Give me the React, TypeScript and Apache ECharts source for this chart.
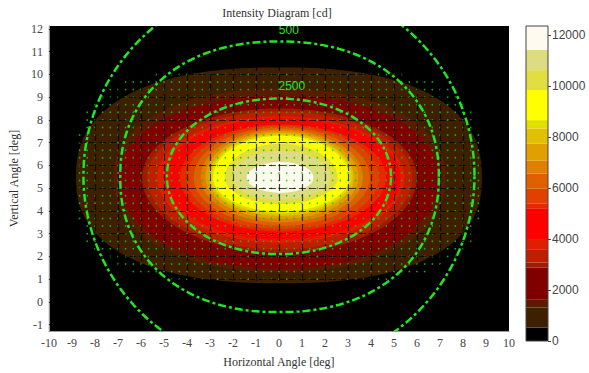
import React, { useEffect, useRef } from 'react';
import * as echarts from 'echarts';

// ---- axis ticks ----
const xTicks = [-10, -9, -8, -7, -6, -5, -4, -3, -2, -1, 0, 1, 2, 3, 4, 5, 6, 7, 8, 9, 10];
const yTicks = [-1, 0, 1, 2, 3, 4, 5, 6, 7, 8, 9, 10, 11, 12];
const xGridLines = [-9, -8, -7, -6, -5, -4, -3, -2, -1, 0, 1, 2, 3, 4, 5, 6, 7, 8, 9];
const yGridLines = [-1, 0, 1, 2, 3, 4, 5, 6, 7, 8, 9, 10, 11, 12];
const yMin = -1.28;
const yMax = 12.13;
const colorbarTicks = [0, 2000, 4000, 6000, 8000, 10000, 12000];
const colorbarMax = 12350;

// ---- intensity bands (lower bound of each band, in cd) ----
const bandLevels = [525, 1310, 1640, 2885, 3080, 3600, 4000, 5180, 5380, 5970, 6560, 7080, 7740, 8330, 8660, 9840, 10620, 11410];
const bandColors = ['#3e1f00', '#5a1c00', '#800000', '#9e1c00', '#c01e00', '#e01e00', '#ff0000', '#e82800', '#e04000', '#e06000', '#e08000', '#e0a000', '#e0c000', '#e0e000', '#ffff00', '#e0de40', '#dedc82', '#fffaf0'];
// contour extents (deg)
const bandLeft = [-8.82, -7.2, -6.95, -5.95, -5.73, -5.3, -5.0, -4.3, -4.0, -3.7, -3.4, -3.2, -3.05, -2.95, -2.85, -2.35, -2.05, -1.4];
const bandRight = [8.82, 7.25, 6.95, 6.0, 5.8, 5.45, 5.3, 4.65, 4.35, 3.95, 3.65, 3.45, 3.25, 3.15, 3.05, 2.55, 2.25, 1.5];
const bandBottom = [0.82, 1.32, 1.46, 2.17, 2.31, 2.6, 2.74, 3.09, 3.2, 3.35, 3.5, 3.65, 3.78, 3.88, 3.98, 4.3, 4.5, 4.8];
const bandTop = [10.31, 9.36, 9.08, 8.51, 8.37, 8.16, 8.09, 7.8, 7.75, 7.67, 7.58, 7.5, 7.42, 7.36, 7.3, 6.95, 6.65, 6.15];
const bandShape = [2.4, 2.2, 2.1, 2, 2, 2, 2, 2, 2, 2, 2, 2, 2, 2, 2, 2, 2, 2];
const peakX = 0.08;
const peakY = 5.47;

// ---- green iso lines ----
const contourLabels = ['', '500', '2500'];
const contourLeft = [-8.5, -6.9, -4.87];
const contourRight = [8.5, 6.95, 4.87];
const contourBottom = [-2.95, -0.45, 2.1];
const contourTop = [14.05, 11.45, 8.94];
const contourCenterY = [5.55, 5.5, 5.52];
const contourShape = [2, 2.2, 2.05];
const contourLabelX = [0, 0.43, 0.56];
const contourLabelY = [14.5, 11.96, 9.49];

// ---- measurement grid (green dots) ----
const dotStep = 1 / 3;
const dotRegion = { left: -8.8, right: 8.8, bottom: 0.85, top: 10.25, n: 3.6 };

function superPoly(api: any, left: number, bottom: number, right: number, top: number, n: number, cx: number, cy: number) {
  const c = api.coord([cx, cy]);
  const l = api.coord([left, cy])[0];
  const r = api.coord([right, cy])[0];
  const t = api.coord([cx, top])[1];
  const b = api.coord([cx, bottom])[1];
  const pts: number[][] = [];
  const N = 180;
  for (let k = 0; k < N; k++) {
    const a = (2 * Math.PI * k) / N;
    const co = Math.cos(a);
    const si = Math.sin(a);
    const fx = Math.sign(co) * Math.pow(Math.abs(co), 2 / n);
    const fy = Math.sign(si) * Math.pow(Math.abs(si), 2 / n);
    const px = c[0] + fx * (co >= 0 ? r - c[0] : c[0] - l);
    const py = c[1] - fy * (si >= 0 ? c[1] - t : b - c[1]);
    pts.push([px, py]);
  }
  return pts;
}

const SERIF = '"Liberation Serif", "Times New Roman", serif';
const SANS = '"Liberation Sans", Arial, sans-serif';

export default function App() {
  const ref = useRef<HTMLDivElement>(null);
  useEffect(() => {
    if (!ref.current) return;
    const chart = echarts.init(ref.current, null, { renderer: 'svg' });

    const bandData = bandLevels.map((lv, i) => [bandLeft[i], bandBottom[i], bandRight[i], bandTop[i], bandShape[i], i, lv]);
    const contourData = contourLabels.map((_, i) => [contourLeft[i], contourBottom[i], contourRight[i], contourTop[i], contourShape[i], contourCenterY[i], i]);
    const cbLevels = [0, ...bandLevels, colorbarMax];
    const cbColors = ['#000000', ...bandColors];
    const cbData = cbColors.map((_, i) => [0, cbLevels[i], 1, cbLevels[i + 1], i]);

    const dots: number[][] = [];
    const rxL = peakX - dotRegion.left;
    const rxR = dotRegion.right - peakX;
    const ryB = peakY - dotRegion.bottom;
    const ryT = dotRegion.top - peakY;
    for (let j = 0; j * dotStep <= 12; j++) {
      const y = j * dotStep;
      for (let i = -30; i <= 30; i++) {
        const x = i * dotStep;
        const dx = x - peakX;
        const dy = y - peakY;
        const ux = Math.abs(dx) / (dx < 0 ? rxL : rxR);
        const uy = Math.abs(dy) / (dy < 0 ? ryB : ryT);
        if (Math.pow(ux, dotRegion.n) + Math.pow(uy, dotRegion.n) <= 1) dots.push([x, y]);
      }
    }

    const axisLabelStyle = { color: '#444', fontFamily: SERIF, fontSize: 12 };

    chart.setOption({
      animation: false,
      backgroundColor: '#ffffff',
      graphic: [
        {
          type: 'text',
          x: 277,
          y: 13,
          style: {
            text: 'Intensity Diagram [cd]',
            font: '12px ' + SERIF,
            fill: '#333',
            align: 'center',
            verticalAlign: 'middle',
            textAlign: 'center',
            textVerticalAlign: 'middle',
          },
        },
      ],
      grid: [
        { left: 45, right: 80, top: 26, bottom: 32, show: true, backgroundColor: '#000000', borderWidth: 0 },
        { left: 526, width: 22, top: 26, bottom: 32, show: true, backgroundColor: 'transparent', borderColor: '#444', borderWidth: 1, z: 3 },
      ],
      xAxis: [
        {
          type: 'value',
          gridIndex: 0,
          min: -10,
          max: 10,
          interval: 1,
          axisLine: { show: true, onZero: false, lineStyle: { color: '#999', width: 1 } },
          axisTick: { show: false },
          splitLine: { show: false },
          axisLabel: { ...axisLabelStyle, margin: 6, customValues: xTicks },
          name: 'Horizontal Angle [deg]',
          nameLocation: 'middle',
          nameGap: 25,
          nameTextStyle: { color: '#333', fontFamily: SERIF, fontSize: 12 },
        },
        { type: 'value', gridIndex: 1, min: 0, max: 1, show: false },
      ],
      yAxis: [
        {
          type: 'value',
          gridIndex: 0,
          min: yMin,
          max: yMax,
          axisLine: { show: true, onZero: false, lineStyle: { color: '#999', width: 1 } },
          axisTick: { show: false, customValues: yTicks },
          splitLine: { show: false },
          axisLabel: { ...axisLabelStyle, margin: 6, customValues: yTicks },
          name: 'Vertical Angle [deg]',
          nameLocation: 'middle',
          nameGap: 24,
          nameTextStyle: { color: '#333', fontFamily: SERIF, fontSize: 12 },
        },
        {
          type: 'value',
          gridIndex: 1,
          min: 0,
          max: colorbarMax,
          position: 'right',
          axisLine: { show: false, onZero: false },
          splitLine: { show: false },
          axisTick: { show: true, length: 3, customValues: colorbarTicks, lineStyle: { color: '#444' } },
          axisLabel: {
            color: '#444',
            fontFamily: SANS,
            fontSize: 12,
            margin: 4,
            customValues: colorbarTicks,
            formatter: (v: number) => String(v),
          },
        },
      ],
      series: [
        {
          type: 'custom',
          name: 'bands',
          xAxisIndex: 0,
          yAxisIndex: 0,
          silent: true,
          clip: true,
          z: 1,
          encode: { x: [0, 2], y: [1, 3] },
          data: bandData,
          renderItem: (params: any, api: any) => {
            const idx = api.value(5);
            const pts = superPoly(api, api.value(0), api.value(1), api.value(2), api.value(3), api.value(4), peakX, peakY);
            return {
              type: 'polygon',
              shape: { points: pts },
              style: { fill: bandColors[idx], stroke: null },
              clipPath: { type: 'rect', shape: { ...params.coordSys } },
            };
          },
        },
        {
          type: 'scatter',
          name: 'grid points',
          xAxisIndex: 0,
          yAxisIndex: 0,
          silent: true,
          z: 3,
          symbol: 'circle',
          symbolSize: 1.7,
          itemStyle: { color: '#0fc80f', opacity: 0.85, borderWidth: 0 },
          data: dots,
          markLine: {
            silent: true,
            symbol: ['none', 'none'],
            label: { show: false },
            z: 4,
            lineStyle: { color: 'rgba(0,0,0,0.72)', width: 1.2, type: [7, 3] },
            emphasis: { disabled: true },
            data: [...xGridLines.map((v) => ({ xAxis: v })), ...yGridLines.map((v) => ({ yAxis: v }))],
          },
        },
        {
          type: 'custom',
          name: 'iso',
          xAxisIndex: 0,
          yAxisIndex: 0,
          silent: true,
          clip: true,
          z: 6,
          encode: { x: [0, 2], y: [1, 3] },
          data: contourData,
          renderItem: (params: any, api: any) => {
            const idx = api.value(6);
            const pts = superPoly(api, api.value(0), api.value(1), api.value(2), api.value(3), api.value(4), 0, api.value(5));
            const lp = api.coord([contourLabelX[idx], contourLabelY[idx]]);
            return {
              type: 'group',
              clipPath: { type: 'rect', shape: { ...params.coordSys } },
              children: [
                {
                  type: 'polygon',
                  shape: { points: pts },
                  style: { fill: 'none', stroke: '#1ee81e', lineWidth: 2.5, lineDash: [8, 3, 3, 3] },
                },
                {
                  type: 'text',
                  x: lp[0],
                  y: lp[1],
                  style: {
                    text: contourLabels[idx],
                    fill: '#1ee81e',
                    font: '12px ' + SANS,
                    align: 'center',
                    verticalAlign: 'middle',
                    textAlign: 'center',
                    textVerticalAlign: 'middle',
                  },
                },
              ],
            };
          },
        },
        {
          type: 'custom',
          name: 'colorbar',
          xAxisIndex: 1,
          yAxisIndex: 1,
          silent: true,
          z: 1,
          encode: { x: [0, 2], y: [1, 3] },
          data: cbData,
          renderItem: (_params: any, api: any) => {
            const idx = api.value(4);
            const p1 = api.coord([api.value(0), api.value(3)]);
            const p2 = api.coord([api.value(2), api.value(1)]);
            return {
              type: 'rect',
              shape: { x: p1[0], y: p1[1], width: p2[0] - p1[0], height: p2[1] - p1[1] },
              style: { fill: cbColors[idx], stroke: null },
            };
          },
        },
      ],
    });
    return () => chart.dispose();
  }, []);
  return <div ref={ref} style={{ position: 'fixed', left: 0, top: 0, width: 589, height: 373 }} />;
}
